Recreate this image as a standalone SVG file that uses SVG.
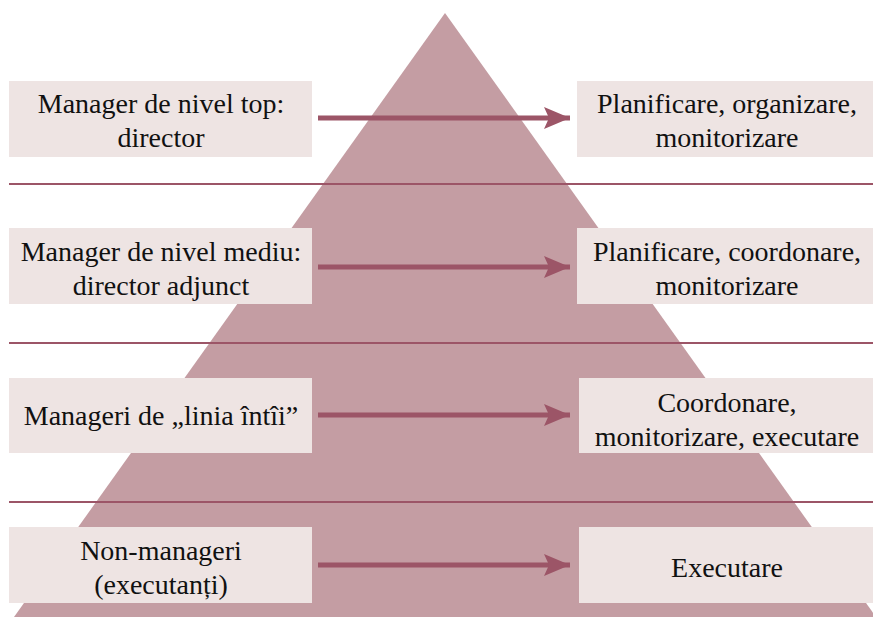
<svg xmlns="http://www.w3.org/2000/svg" width="873" height="617" viewBox="0 0 873 617">
<style>
.box{fill:#eee4e3}
.sep{stroke:#9c5567;stroke-width:2}
.arr{stroke:#9c5567;stroke-width:5;fill:none}
</style>
<defs>
<marker id="ah" markerUnits="userSpaceOnUse" markerWidth="28" markerHeight="24" refX="26" refY="12" orient="auto">
<path d="M0,1 L26,12 L0,23 L5,12 Z" fill="#9c5567"/>
</marker>
</defs>
<rect width="873" height="617" fill="#fff"/>
<polygon id="pyramid" points="445,13 876,617 14,617" fill="#c49da3"/>
<g id="separators">
<line class="sep" x1="9" y1="184" x2="873" y2="184"/>
<line class="sep" x1="9" y1="343" x2="873" y2="343"/>
<line class="sep" x1="9" y1="502" x2="873" y2="502"/>
</g>
<g font-family="Liberation Serif, DejaVu Serif, serif" font-size="28" fill="#111" text-anchor="middle">
<g id="n1"><rect class="box" x="9" y="81" width="303" height="76"/><text x="161" y="113">Manager de nivel top:</text><text x="161" y="147">director</text></g>
<g id="n2"><rect class="box" x="577" y="81" width="296" height="76"/><text x="727" y="113">Planificare, organizare,</text><text x="727" y="147">monitorizare</text></g>
<g id="n3"><rect class="box" x="9" y="228" width="303" height="76"/><text x="161" y="261">Manager de nivel mediu:</text><text x="161" y="295">director adjunct</text></g>
<g id="n4"><rect class="box" x="577" y="228" width="296" height="76"/><text x="727" y="261">Planificare, coordonare,</text><text x="727" y="295">monitorizare</text></g>
<g id="n5"><rect class="box" x="9" y="378" width="303" height="75"/><text x="161" y="425">Manageri de „linia întîi”</text></g>
<g id="n6"><rect class="box" x="579" y="378" width="294" height="75"/><text x="727" y="412">Coordonare,</text><text x="727" y="446">monitorizare, executare</text></g>
<g id="n7"><rect class="box" x="9" y="527" width="303" height="76"/><text x="161" y="560">Non-manageri</text><text x="161" y="594">(executanți)</text></g>
<g id="n8"><rect class="box" x="579" y="527" width="294" height="76"/><text x="727" y="577">Executare</text></g>
</g>
<g id="connectors">
<line class="arr" x1="318" y1="118" x2="570" y2="118" marker-end="url(#ah)"/>
<line class="arr" x1="318" y1="267" x2="570" y2="267" marker-end="url(#ah)"/>
<line class="arr" x1="318" y1="415" x2="570" y2="415" marker-end="url(#ah)"/>
<line class="arr" x1="318" y1="565" x2="570" y2="565" marker-end="url(#ah)"/>
</g>
</svg>
